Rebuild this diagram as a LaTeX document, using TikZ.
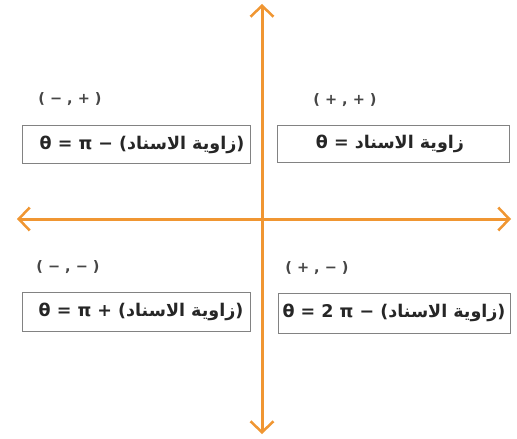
\documentclass[tikz,border=0pt]{standalone}
\usepackage{fontspec}
\setmainfont{DejaVu Sans}
\newfontfamily\arabicfont[Script=Arabic]{DejaVu Sans}
\TeXXeTstate=1
\usetikzlibrary{arrows.meta}
\definecolor{axisorange}{RGB}{240,150,50}
\definecolor{boxgray}{RGB}{130,130,130}
\definecolor{labelgray}{RGB}{70,70,70}
\newcommand{\ar}{{\arabicfont\beginR زاوية الاسناد\endR}}
\begin{document}
\begin{tikzpicture}[x=1pt,y=-1pt,
  axis/.style={draw=axisorange,line width=3pt,-{Straight Barb[length=11pt,width=23pt,line width=2.5pt]}},
  eqbox/.style={draw=boxgray,line width=1pt,fill=white,inner sep=0pt},
  eqtext/.style={font=\bfseries\fontsize{17.5}{20}\selectfont,text=black!85},
  quad/.style={font=\bfseries\fontsize{14.5}{16}\selectfont,text=labelgray}]
\useasboundingbox (0,0) rectangle (517,439);
\fill[white] (0,0) rectangle (517,439);
\coordinate (o) at (262,219);
\coordinate (top) at (262,4);
\coordinate (bot) at (262,434);
\coordinate (lft) at (17,219);
\coordinate (rgt) at (511,219);
\draw[axis] (o) -- (top);
\draw[axis] (o) -- (bot);
\draw[axis] (o) -- (lft);
\draw[axis] (o) -- (rgt);
% boxes
\node[eqbox,minimum width=228pt,minimum height=38pt] (tl) at (136,144) {};
\node[eqbox,minimum width=232pt,minimum height=37pt] (tr) at (393,143.5) {};
\node[eqbox,minimum width=228pt,minimum height=39pt] (bl) at (136,311.5) {};
\node[eqbox,minimum width=232pt,minimum height=40pt] (br) at (394,313) {};
\node[eqtext] (tlt) at (142,145) {θ = π − (\ar)};
\node[eqtext] (trt) at (390,144) {θ = \ar};
\node[eqtext] (blt) at (141,312) {θ = π + (\ar)};
\node[eqtext] (brt) at (394,313) {θ = 2 π − (\ar)};
% quadrant labels
\node[quad] (q2) at (70,99) {( − , + )};
\node[quad] (q1) at (345,100) {( + , + )};
\node[quad] (q3) at (68,267) {( − , − )};
\node[quad] (q4) at (317,268) {( + , − )};
\end{tikzpicture}
\end{document}
